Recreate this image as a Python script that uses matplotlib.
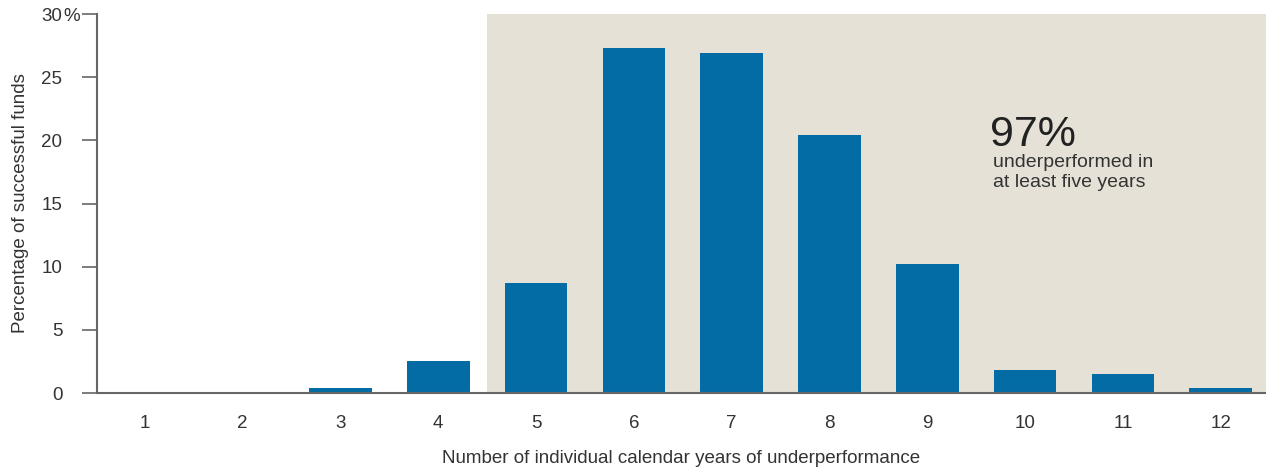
import matplotlib.pyplot as plt
from matplotlib.patches import Rectangle

years = [1, 2, 3, 4, 5, 6, 7, 8, 9, 10, 11, 12]
pct_funds = [0.0, 0.0, 0.4, 2.5, 8.7, 27.3, 26.9, 20.4, 10.2, 1.8, 1.5, 0.4]
y_ticks = [0, 5, 10, 15, 20, 25, 30]
y_tick_labels = ["0", "5", "10", "15", "20", "25", "30"]

headline = "97%"
note = "underperformed in\nat least five years"

BAR_COLOR = "#046ca5"
SHADE_COLOR = "#e5e1d6"
AXIS_COLOR = "#666666"
TEXT_COLOR = "#333333"
FS = 13.5

plt.rcParams["font.family"] = ["Liberation Sans", "DejaVu Sans"]

fig = plt.figure(figsize=(12.66, 4.70), dpi=100)
ax = fig.add_axes([0.0766, 0.1638, 0.9234, 0.8062])

# shaded zone for 5+ years
ax.add_patch(Rectangle((4.5, 0), 12.464 - 4.5, 30, facecolor=SHADE_COLOR,
                       edgecolor="none", zorder=0))

ax.bar(years, pct_funds, width=0.64, color=BAR_COLOR, zorder=2)

ax.set_xlim(0.51, 12.464)
ax.set_ylim(0, 30)
ax.set_xticks(years)
ax.set_xticklabels([str(y) for y in years])
ax.set_yticks(y_ticks)
ax.set_yticklabels(y_tick_labels)

for side in ["top", "right"]:
    ax.spines[side].set_visible(False)
for side in ["left", "bottom"]:
    ax.spines[side].set_color(AXIS_COLOR)
    ax.spines[side].set_linewidth(1.5)
    ax.spines[side].set_zorder(3)

ax.tick_params(axis="y", length=11, width=1.2, color=AXIS_COLOR,
               labelsize=FS, labelcolor=TEXT_COLOR, pad=14)
ax.tick_params(axis="x", length=0, labelsize=FS, labelcolor=TEXT_COLOR, pad=16)

# percent sign hangs after the top tick label
ax.annotate("%", xy=(0, 30), xycoords=("axes fraction", "data"),
            xytext=(-24, 0), textcoords="offset points",
            ha="left", va="center_baseline", fontsize=FS, color=TEXT_COLOR)

ax.set_ylabel("Percentage of successful funds", fontsize=FS, color=TEXT_COLOR, labelpad=8.5)
ax.set_xlabel("Number of individual calendar years of underperformance",
              fontsize=FS, color=TEXT_COLOR, labelpad=13)

ax.text(9.64, 19.55, headline, fontsize=31, color="#222222", ha="left", va="baseline")
ax.text(9.67, 18.9, note, fontsize=14, color=TEXT_COLOR, ha="left", va="top",
        linespacing=1.23)

fig.savefig("out.png", dpi=100)
